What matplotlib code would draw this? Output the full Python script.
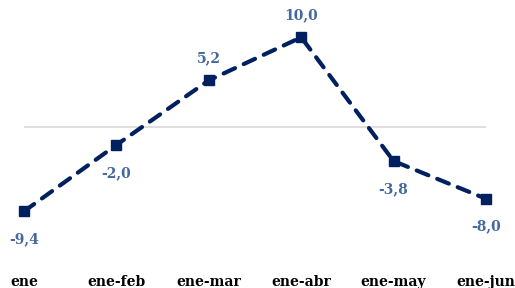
import matplotlib
matplotlib.use("Agg")
import matplotlib.pyplot as plt
import matplotlib.transforms as mtransforms

categories = ["ene", "ene-feb", "ene-mar", "ene-abr", "ene-may", "ene-jun"]
values = [-9.4, -2.0, 5.2, 10.0, -3.8, -8.0]
labels = ["-9,4", "-2,0", "5,2", "10,0", "-3,8", "-8,0"]
label_above = [False, False, True, True, False, False]

W, H = 515, 288
fig = plt.figure(figsize=(W / 100, H / 100), dpi=100)
scale = (211 - 37) / 19.4
y0 = 127
ytop, ybot = 12, -12
top_px = y0 - ytop * scale
bot_px = y0 - ybot * scale
ax = fig.add_axes([24 / W, 1 - bot_px / H, (486 - 24) / W, (bot_px - top_px) / H])
ax.set_xlim(0, len(categories) - 1)
ax.set_ylim(ybot, ytop)
ax.axis("off")
ax.axhline(0, color="#d9d9d9", lw=1.2, zorder=1)

x = list(range(len(categories)))
ax.plot(x, values, color="#002060", lw=3.0, ls=(0, (3.0, 2.3)), marker="s",
        markersize=7.5, dash_capstyle="round", zorder=3, clip_on=False)

serif = ["DejaVu Serif"]
for xi, v, lab, up in zip(x, values, labels, label_above):
    ax.annotate(lab, (xi, v), xytext=(0, 16 if up else -20), textcoords="offset points",
                ha="center", va="center", fontsize=10, fontweight="bold",
                color="#44699e", family=serif, annotation_clip=False)

trans = mtransforms.blended_transform_factory(ax.transData, fig.transFigure)
for xi, c in zip(x, categories):
    fig.text(xi, 1 - 282 / H, c, transform=trans, ha="center", va="center",
             fontsize=10, fontweight="bold", color="black", family=serif)

fig.savefig("out.png", dpi=100)
